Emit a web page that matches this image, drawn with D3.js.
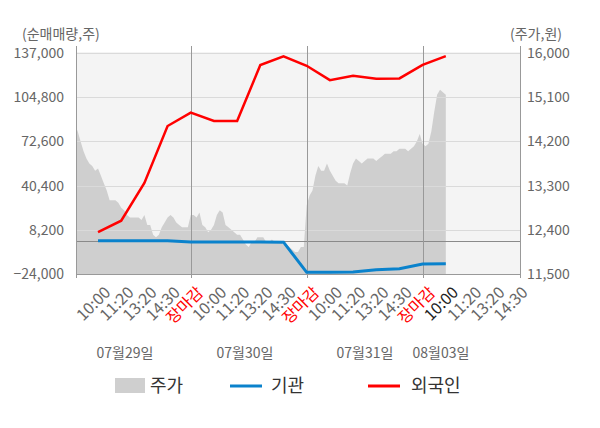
<!DOCTYPE html>
<html>
<head>
<meta charset="utf-8">
<script src="https://cdn.jsdelivr.net/npm/d3@7"></script>
<style>
body { margin: 0; background: #fff; }
text { font-family: "Noto Sans CJK KR", "Noto Sans", sans-serif; }
</style>
</head>
<body>
<div id="chart"></div>
<script>
// x tick labels, one per data slot
const timeLabels = [
    "10:00", "11:20", "13:20", "14:30", "장마감",
    "10:00", "11:20", "13:20", "14:30", "장마감",
    "10:00", "11:20", "13:20", "14:30", "장마감",
    "10:00", "11:20", "13:20", "14:30"
];
const dayLabels = ["07월29일", "07월30일", "07월31일", "08월03일"];

// net buying (shares) at each slot
const foreignNet = [6500, 14800, 42400, 83800, 93600, 87500, 87500, 128200,
    134600, 127700, 117200, 120400, 118200, 118500, 128400, 134700];
const institNet = [300, 250, 300, 200, -600, -700, -700, -700,
    -800, -22800, -22700, -22600, -20900, -20100, -16700, -16600];

// intraday price, 8 samples per slot
const price0729 = [14550, 14400, 14200, 14000, 13850, 13750, 13700, 13600, 13650, 13500,
    13350, 13200, 13000, 13000, 13000, 12950, 12850, 12800, 12700, 12650,
    12650, 12650, 12650, 12600, 12700, 12500, 12500, 12300, 12250, 12300,
    12450, 12550, 12650, 12700, 12650, 12550, 12500, 12450, 12450, 12450];
const price0730 = [12700, 12700, 12650, 12750, 12500, 12450, 12350, 12400, 12500, 12700,
    12800, 12750, 12500, 12450, 12400, 12350, 12300, 12300, 12200, 12100,
    12050, 12150, 12150, 12250, 12250, 12250, 12150, 12150, 12200, 12150,
    12150, 12150, 12100, 12100, 12050, 12000, 11950, 11950, 12050, 12050];
const price0731 = [12900, 13100, 13200, 13500, 13700, 13600, 13600, 13750, 13600, 13500,
    13400, 13350, 13350, 13350, 13300, 13550, 13750, 13850, 13800, 13750,
    13800, 13850, 13850, 13850, 13800, 13850, 13900, 13950, 13950, 13950,
    14000, 14000, 14050, 14050, 14050, 14000, 14050, 14100, 14200, 14350];
const price0803 = [14150, 14100, 14150, 14400, 14800, 15150, 15250, 15200, 15150];

const leftTicks = [-24000, 8200, 40400, 72600, 104800, 137000];
const rightTicks = [11500, 12400, 13300, 14200, 15100, 16000];

const width = 600, height = 428;
const margin = {top: 53, right: 80, bottom: 154, left: 76};
const innerRight = width - margin.right;
const innerBottom = height - margin.bottom;

const svg = d3.select("#chart")
    .append("svg")
    .attr("width", width)
    .attr("height", height);

const x = d3.scaleLinear()
    .domain([-0.95, 18.2])
    .range([margin.left, innerRight]);
const yL = d3.scaleLinear()
    .domain([leftTicks[0], leftTicks[leftTicks.length - 1]])
    .range([innerBottom, margin.top]);
const yR = d3.scaleLinear()
    .domain([rightTicks[0], rightTicks[rightTicks.length - 1]])
    .range([innerBottom, margin.top]);

svg.append("defs").append("clipPath")
    .attr("id", "plot")
    .append("rect")
    .attr("x", margin.left)
    .attr("y", margin.top - 1)
    .attr("width", innerRight - margin.left)
    .attr("height", innerBottom - margin.top + 1);

svg.append("rect")
    .attr("x", margin.left)
    .attr("y", margin.top - 1)
    .attr("width", innerRight - margin.left)
    .attr("height", innerBottom - margin.top + 1)
    .attr("fill", "#f4f4f4");

// price samples -> slot position (each day spans 5 slots)
const priceData = [];
[price0729, price0730, price0731, price0803].forEach(function (day, d) {
    day.forEach(function (p, j) {
        priceData.push({k: 5 * d - 1 + j / 8, p: p});
    });
});

svg.append("path")
    .datum(priceData)
    .attr("clip-path", "url(#plot)")
    .attr("fill", "#cfcfcf")
    .attr("d", d3.area()
        .x(function (d) { return x(d.k); })
        .y0(innerBottom)
        .y1(function (d) { return yR(d.p); }));

// grid
svg.append("g")
    .selectAll("line")
    .data(leftTicks.slice(1))
    .enter()
    .append("line")
    .attr("x1", margin.left)
    .attr("x2", innerRight)
    .attr("y1", function (d) { return Math.round(yL(d)) + 0.5; })
    .attr("y2", function (d) { return Math.round(yL(d)) + 0.5; })
    .attr("stroke", "#dadada");

svg.append("line")
    .attr("x1", margin.left)
    .attr("x2", innerRight)
    .attr("y1", Math.round(yL(0)) + 0.5)
    .attr("y2", Math.round(yL(0)) + 0.5)
    .attr("stroke", "#8a8a8a");

// day separators and side axis lines
const vLines = [x.domain()[0], 4, 9, 14, x.domain()[1]];
svg.append("g")
    .selectAll("line")
    .data(vLines)
    .enter()
    .append("line")
    .attr("x1", function (d) { return Math.round(x(d)) + 0.5; })
    .attr("x2", function (d) { return Math.round(x(d)) + 0.5; })
    .attr("y1", margin.top - 7)
    .attr("y2", innerBottom + 4)
    .attr("stroke", "#999");

svg.append("line")
    .attr("x1", margin.left)
    .attr("x2", innerRight)
    .attr("y1", innerBottom + 0.5)
    .attr("y2", innerBottom + 0.5)
    .attr("stroke", "#999");

// lines
const line = d3.line()
    .x(function (d, i) { return x(i); })
    .y(function (d) { return yL(d); });

svg.append("path")
    .datum(institNet)
    .attr("fill", "none")
    .attr("stroke", "#0a82cc")
    .attr("stroke-width", 3)
    .attr("d", line);

svg.append("path")
    .datum(foreignNet)
    .attr("fill", "none")
    .attr("stroke", "#ff0000")
    .attr("stroke-width", 2.5)
    .attr("d", line);

// y axes
const leftAxis = svg.append("g")
    .attr("transform", "translate(" + margin.left + ",0)")
    .call(d3.axisLeft(yL).tickValues(leftTicks).tickSize(0).tickPadding(12)
        .tickFormat(d3.format(",")));
const rightAxis = svg.append("g")
    .attr("transform", "translate(" + innerRight + ",0)")
    .call(d3.axisRight(yR).tickValues(rightTicks).tickSize(0).tickPadding(7)
        .tickFormat(d3.format(",")));
[leftAxis, rightAxis].forEach(function (a) {
    a.select(".domain").remove();
    a.selectAll("text")
        .style("font-size", "14px")
        .style("font-family", "'Noto Sans CJK KR', 'Noto Sans', sans-serif")
        .attr("fill", "#666");
});

svg.append("text")
    .attr("x", 22)
    .attr("y", 34)
    .attr("dy", "0.35em")
    .style("font-size", "14px")
    .attr("fill", "#666")
    .text("(순매매량,주)");
svg.append("text")
    .attr("x", 562)
    .attr("y", 34)
    .attr("dy", "0.35em")
    .attr("text-anchor", "end")
    .style("font-size", "14px")
    .attr("fill", "#666")
    .text("(주가,원)");

// x labels
svg.append("g")
    .selectAll("text")
    .data(timeLabels)
    .enter()
    .append("text")
    .attr("transform", function (d, i) {
        return "translate(" + (x(i) + 5) + "," + (innerBottom + 11) + ")rotate(-45)";
    })
    .attr("text-anchor", "end")
    .attr("dy", "0.75em")
    .style("font-size", "16px")
    .attr("fill", function (d, i) {
        if (d === "장마감") return "#ff0000";
        return i === 15 ? "#222" : "#666";
    })
    .text(function (d) { return d; });

const dayX = [125, 245, 365, 441];
svg.append("g")
    .selectAll("text")
    .data(dayLabels)
    .enter()
    .append("text")
    .attr("x", function (d, i) { return dayX[i]; })
    .attr("y", 353)
    .attr("dy", "0.35em")
    .attr("text-anchor", "middle")
    .style("font-size", "14px")
    .attr("fill", "#666")
    .text(function (d) { return d; });

// legend
const legend = svg.append("g").attr("transform", "translate(0,386)");
legend.append("rect")
    .attr("x", 115).attr("y", -8).attr("width", 30).attr("height", 15)
    .attr("fill", "#cfcfcf");
legend.append("line")
    .attr("x1", 230).attr("x2", 262).attr("y1", 0).attr("y2", 0)
    .attr("stroke", "#0a82cc").attr("stroke-width", 3);
legend.append("line")
    .attr("x1", 368).attr("x2", 400).attr("y1", 0).attr("y2", 0)
    .attr("stroke", "#ff0000").attr("stroke-width", 3);
legend.selectAll("text")
    .data([["주가", 150], ["기관", 271], ["외국인", 411]])
    .enter()
    .append("text")
    .attr("x", function (d) { return d[1]; })
    .attr("y", 0)
    .attr("dy", "0.35em")
    .style("font-size", "18px")
    .attr("fill", "#333")
    .text(function (d) { return d[0]; });
</script>
</body>
</html>
